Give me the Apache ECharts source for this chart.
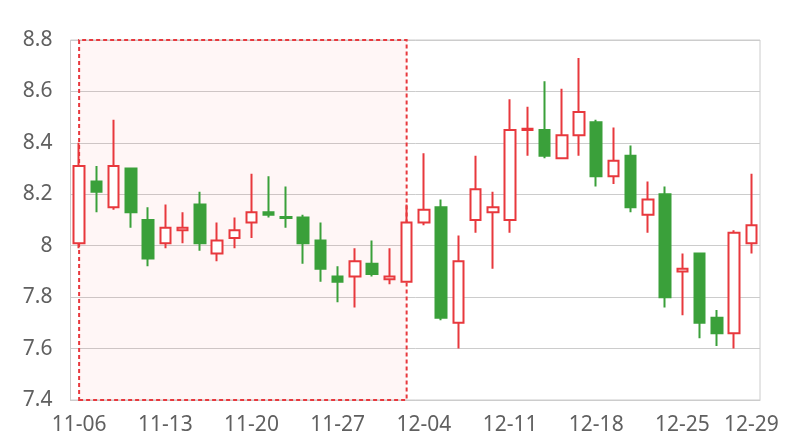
<!DOCTYPE html>
<html>
<head>
<meta charset="utf-8">
<script src="https://cdn.jsdelivr.net/npm/echarts@6/dist/echarts.min.js"></script>
<style>html,body{margin:0;padding:0;background:#fff;}#c{width:800px;height:440px;}</style>
</head>
<body>
<div id="c"></div>
<script>
var dates = ['11-06','11-07','11-08','11-09','11-10','11-13','11-14','11-15','11-16','11-17',
  '11-20','11-21','11-22','11-23','11-24','11-27','11-28','11-29','11-30','12-01',
  '12-04','12-05','12-06','12-07','12-08','12-11','12-12','12-13','12-14','12-15',
  '12-18','12-19','12-20','12-21','12-22','12-25','12-26','12-27','12-28','12-29'];
var openV  = [8.01,8.25,8.15,8.30,8.10,8.01,8.06,8.16,7.97,8.03,8.09,8.13,8.112,8.11,8.02,7.88,7.88,7.93,7.87,7.86,
  8.09,8.15,7.70,8.10,8.13,8.10,8.45,8.45,8.34,8.43,8.48,8.27,8.35,8.12,8.20,7.90,7.97,7.72,7.66,8.01];
var closeV = [8.31,8.21,8.31,8.13,7.95,8.07,8.07,8.01,8.02,8.06,8.13,8.12,8.108,8.01,7.91,7.86,7.94,7.89,7.88,8.09,
  8.14,7.72,7.94,8.22,8.15,8.45,8.455,8.35,8.43,8.52,8.27,8.33,8.15,8.18,7.80,7.91,7.70,7.66,8.05,8.08];
var lowV   = [7.99,8.13,8.14,8.07,7.92,7.99,8.01,7.98,7.94,7.99,8.03,8.11,8.07,7.93,7.86,7.78,7.76,7.88,7.85,7.86,
  8.08,7.71,7.60,8.05,7.91,8.05,8.35,8.34,8.34,8.35,8.23,8.24,8.13,8.05,7.76,7.73,7.64,7.61,7.60,7.97];
var highV  = [8.40,8.31,8.49,8.30,8.15,8.16,8.13,8.21,8.09,8.11,8.28,8.27,8.23,8.12,8.09,7.92,7.99,8.02,7.99,8.16,
  8.36,8.18,8.04,8.35,8.21,8.57,8.54,8.64,8.61,8.73,8.49,8.46,8.39,8.25,8.23,7.97,7.97,7.75,8.06,8.28];
var areaStart = '11-06', areaEnd = '12-01';

var ohlc = dates.map(function(d, i){ return [openV[i], closeV[i], lowV[i], highV[i]]; });

var chart = echarts.init(document.getElementById('c'));
chart.setOption({
  animation: false,
  grid: { left: 70.5, right: 40, top: 40, bottom: 40, show: true, borderColor: '#ccc', borderWidth: 1 },
  xAxis: {
    type: 'category',
    data: dates,
    boundaryGap: true,
    axisLine: { lineStyle: { color: '#ccc' } },
    axisTick: { show: false },
    axisLabel: {
      color: '#606060', fontSize: 21, margin: 15, fontFamily: 'Noto Sans',
      interval: function(idx){ return idx % 5 === 0 || idx === dates.length - 1; }
    },
    splitLine: { show: false }
  },
  yAxis: {
    type: 'value',
    min: 7.4, max: 8.8, interval: 0.2,
    axisLine: { show: false },
    axisTick: { show: false },
    axisLabel: { color: '#606060', fontSize: 21, margin: 18, fontFamily: 'Noto Sans' },
    splitLine: { lineStyle: { color: '#ccc' } }
  },
  series: [{
    type: 'candlestick',
    data: ohlc,
    barWidth: 11,
    itemStyle: {
      color: '#ffffff',
      color0: '#3aa03a',
      borderColor: '#e8383d',
      borderColor0: '#3aa03a',
      borderWidth: 2
    },
    markArea: {
      silent: true,
      itemStyle: {
        color: 'rgba(255,80,80,0.05)',
        borderColor: '#e8383d',
        borderWidth: 2,
        borderType: [4, 3]
      },
      data: [[{ xAxis: areaStart }, { xAxis: areaEnd }]]
    }
  }]
});
</script>
</body>
</html>
